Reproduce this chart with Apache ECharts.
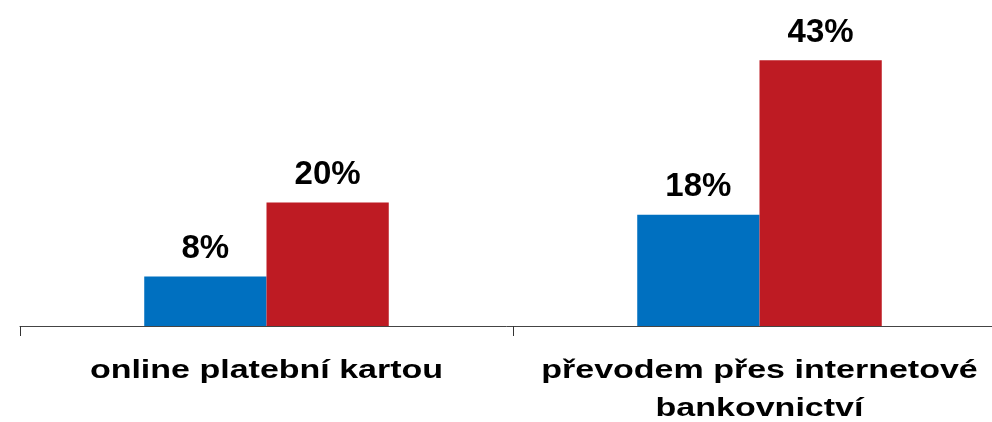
<!DOCTYPE html>
<html>
<head>
<meta charset="utf-8">
<script src="https://cdn.jsdelivr.net/npm/echarts@6/dist/echarts.min.js"></script>
<style>
  html, body { margin: 0; padding: 0; background: #fff; }
  #chart { width: 992px; height: 422px; }
</style>
</head>
<body>
<div id="chart"></div>
<script>
const categories = ["online platební kartou", "převodem přes internetové\nbankovnictví"];
const seriesA = [8, 18];
const seriesB = [20, 43];

const myChart = echarts.init(document.getElementById("chart"));

const labelStyle = {
  show: true,
  position: "top",
  distance: 11,
  formatter: "{c}%",
  color: "#000",
  fontFamily: "Liberation Sans, Arial, sans-serif",
  fontWeight: "bold",
  fontSize: 33,
};

const option = {
  animation: false,
  grid: {
    left: 20,
    top: 17,
    width: 986,
    bottom: 96,
    containLabel: false,
    outerBoundsMode: "none",
  },
  xAxis: {
    type: "category",
    data: categories,
    axisLine: { lineStyle: { color: "#444", width: 1 } },
    axisTick: { show: true, length: 10, lineStyle: { color: "#333" } },
    // labels are drawn below as graphic text, stretched like the original
    axisLabel: { show: false },
  },
  yAxis: {
    type: "value",
    min: 0,
    max: 50,
    show: false,
    splitLine: { show: false },
  },
  series: [
    {
      type: "bar",
      data: seriesA,
      barWidth: "24.8%",
      barGap: "0%",
      itemStyle: { color: "#0070C0" },
      label: labelStyle,
    },
    {
      type: "bar",
      data: seriesB,
      barWidth: "24.8%",
      itemStyle: { color: "#BE1B23" },
      label: labelStyle,
    },
  ],
};

myChart.setOption(option);

// category labels: wide bold text under each group
const axisY = myChart.convertToPixel({ yAxisIndex: 0 }, 0);
myChart.setOption({
  graphic: categories.map(function (name, i) {
    return {
      type: "text",
      x: myChart.convertToPixel({ xAxisIndex: 0 }, i),
      y: axisY + 26,
      scaleX: 1.36,
      style: {
        text: name,
        fill: "#000",
        fontFamily: "Liberation Sans, Arial, sans-serif",
        fontWeight: "bold",
        fontSize: 25,
        lineHeight: 38,
        align: "center",
        verticalAlign: "top",
      },
    };
  }),
});
</script>
</body>
</html>
